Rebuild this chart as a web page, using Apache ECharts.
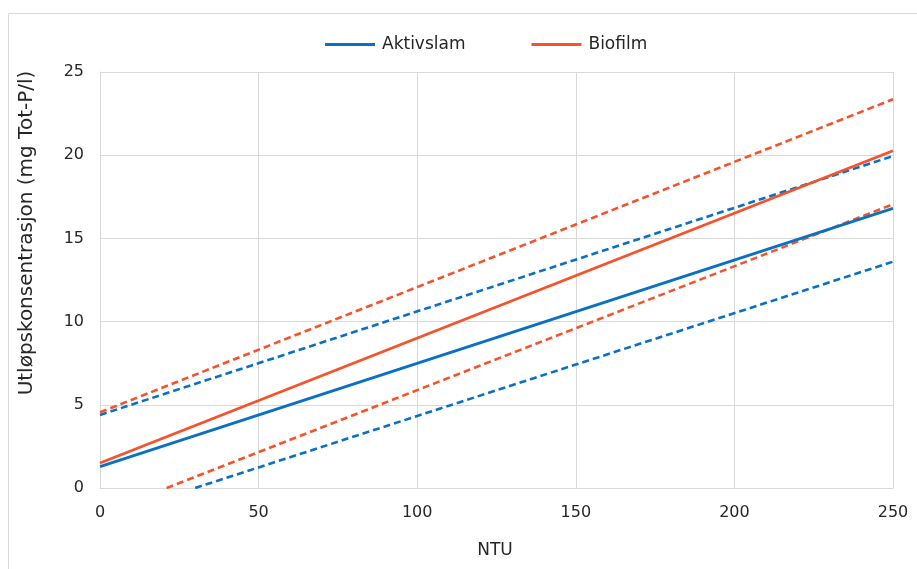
<!DOCTYPE html>
<html>
<head>
<meta charset="utf-8">
<script src="https://cdn.jsdelivr.net/npm/echarts@6/dist/echarts.min.js"></script>
<style>html,body{margin:0;padding:0;background:#fff;}#c{width:917px;height:569px;}</style>
</head>
<body>
<div id="c"></div>
<script>
// NTU x-values and outlet concentration (mg Tot-P/l)
const aktivslamX = [0, 250];
const aktivslamY = [1.28, 16.8];
const aktivslamUpperX = [0, 250];
const aktivslamUpperY = [4.39, 19.95];
const aktivslamLowerX = [30, 250];
const aktivslamLowerY = [0, 13.6];
const biofilmX = [0, 250];
const biofilmY = [1.5, 20.27];
const biofilmUpperX = [0, 250];
const biofilmUpperY = [4.55, 23.36];
const biofilmLowerX = [21, 250];
const biofilmLowerY = [0, 17.05];

const yTitle = 'Utløpskonsentrasjon (mg Tot-P/l)';
const xTitle = 'NTU';

const blue = '#0a70c4';
const orange = '#f5532b';
const font = "'DejaVu Sans', Verdana, sans-serif";
const txt = '#262626';

function pts(xs, ys) { return xs.map((x, i) => [x, ys[i]]); }

function line(name, xs, ys, color, dashed) {
  return {
    name: name, type: 'line', data: pts(xs, ys), symbol: 'none',
    lineStyle: { color: color, width: dashed ? 2.6 : 2.8, type: dashed ? [7, 4] : 'solid' },
    itemStyle: { color: color }, z: dashed ? 2 : 3, animation: false
  };
}

const chart = echarts.init(document.getElementById('c'));
chart.setOption({
  animation: false,
  graphic: [{
    type: 'rect', shape: { x: 8.5, y: 13.5, width: 930, height: 600 },
    style: { fill: 'none', stroke: '#d9d9d9', lineWidth: 1 }, silent: true
  }, {
    type: 'text', x: 27, y: 233, rotation: Math.PI / 2,
    style: { text: yTitle, font: "20px 'DejaVu Sans'", fill: txt, align: 'center', verticalAlign: 'middle' },
    silent: true
  }, {
    type: 'text', x: 495, y: 551,
    style: { text: xTitle, font: "17px 'DejaVu Sans'", fill: txt, align: 'center', verticalAlign: 'middle' },
    silent: true
  }],
  legend: {
    data: ['Aktivslam', 'Biofilm'], top: 31, left: 320, itemGap: 66,
    itemWidth: 50, itemHeight: 14,
    textStyle: { fontFamily: font, fontSize: 17, color: txt, padding: [0, 0, 0, 2] },
    icon: 'path://M0,5.5 L50,5.5 L50,8.5 L0,8.5 Z'
  },
  grid: { left: 100, right: 24, top: 72, bottom: 81 },
  xAxis: {
    type: 'value', min: 0, max: 250, interval: 50,
    axisLine: { show: true, lineStyle: { color: '#d9d9d9' } },
    axisTick: { show: false },
    axisLabel: { margin: 17, fontFamily: font, fontSize: 16, color: txt },
    splitLine: { show: true, lineStyle: { color: '#d9d9d9' } }
  },
  yAxis: {
    type: 'value', min: 0, max: 25, interval: 5,
    axisLine: { show: true, lineStyle: { color: '#d9d9d9' } },
    axisTick: { show: false },
    axisLabel: { margin: 16, fontFamily: font, fontSize: 16, color: txt },
    splitLine: { show: true, lineStyle: { color: '#d9d9d9' } }
  },
  series: [
    line('Aktivslam øvre', aktivslamUpperX, aktivslamUpperY, blue, true),
    line('Aktivslam nedre', aktivslamLowerX, aktivslamLowerY, blue, true),
    line('Biofilm øvre', biofilmUpperX, biofilmUpperY, orange, true),
    line('Biofilm nedre', biofilmLowerX, biofilmLowerY, orange, true),
    line('Aktivslam', aktivslamX, aktivslamY, blue, false),
    line('Biofilm', biofilmX, biofilmY, orange, false)
  ]
});
</script>
</body>
</html>
